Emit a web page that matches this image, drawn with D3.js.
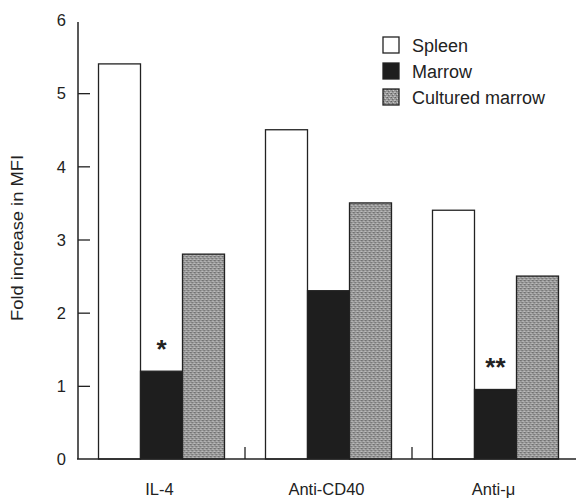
<!DOCTYPE html>
<html>
<head>
<meta charset="utf-8">
<script src="https://cdn.jsdelivr.net/npm/d3@7"></script>
<style>
  body { margin: 0; background: #fff; }
  text { font-family: "Liberation Sans", Arial, sans-serif; fill: #222; }
</style>
</head>
<body>
<div id="chart"></div>
<script>
// data
const groups = ['IL-4', 'Anti-CD40', 'Anti-\u03bc'];
const series = ['Spleen', 'Marrow', 'Cultured marrow'];
const spleen = [5.4, 4.5, 3.4];
const marrow = [1.2, 2.3, 0.95];
const cultured = [2.8, 3.5, 2.5];
const marks = ['*', '', '**'];   // significance over marrow bars
const yTicks = [0, 1, 2, 3, 4, 5, 6];

const width = 576, height = 499;
const svg = d3.select('#chart').append('svg')
  .attr('width', width).attr('height', height);

// stippled grey fill
const defs = svg.append('defs');
const pat = defs.append('pattern').attr('id', 'stip')
  .attr('patternUnits', 'userSpaceOnUse').attr('width', 4).attr('height', 4);
pat.append('rect').attr('width', 4).attr('height', 4).attr('fill', '#9a9a9a');
[[0, 0, '#626262'], [2, 1, '#c8c8c8'], [1, 2, '#6e6e6e'], [3, 3, '#c0c0c0'], [3, 0, '#808080'], [0, 3, '#b4b4b4'], [2, 2, '#888']]
  .forEach(([px, py, c]) => pat.append('rect').attr('x', px).attr('y', py).attr('width', 1).attr('height', 1).attr('fill', c));

const fills = ['#ffffff', '#1e1e1e', 'url(#stip)'];

const x0 = d3.scaleBand().domain(groups).range([78, 579])
  .paddingInner(0.2455).paddingOuter(0.1228);
const x1 = d3.scaleBand().domain(series).range([0, x0.bandwidth()]);
const y = d3.scaleLinear().domain([0, 6]).range([459, 20]);

const rows = groups.map((g, i) => ({ g, vals: [spleen[i], marrow[i], cultured[i]] }));

// bars
const gg = svg.selectAll('g.grp').data(rows).enter().append('g')
  .attr('class', 'grp')
  .attr('transform', d => `translate(${x0(d.g)},0)`);
gg.selectAll('rect').data(d => d.vals.map((v, k) => ({ s: series[k], v, k })))
  .enter().append('rect')
  .attr('x', d => x1(d.s))
  .attr('y', d => y(d.v))
  .attr('width', x1.bandwidth())
  .attr('height', d => y(0) - y(d.v))
  .attr('fill', d => fills[d.k])
  .attr('stroke', '#222')
  .attr('stroke-width', 1.3);

// asterisks
svg.selectAll('text.sig').data(rows).enter().append('text')
  .attr('class', 'sig')
  .attr('x', d => x0(d.g) + x1('Marrow') + x1.bandwidth() / 2)
  .attr('y', d => y(d.vals[1]) - 13)
  .attr('text-anchor', 'middle')
  .attr('font-size', 26)
  .attr('font-weight', 'bold')
  .text((d, i) => marks[i]);

// y axis
const yAxis = d3.axisRight(y).tickValues(yTicks).tickSize(12).tickFormat(d3.format('d'));
const ya = svg.append('g').attr('transform', 'translate(78,0)').call(yAxis);
ya.select('.domain').attr('stroke', '#222').attr('stroke-width', 1.5)
  .attr('d', `M0,${y(6) + 2}V${y(0)}`);
ya.selectAll('.tick line').attr('stroke', '#222').attr('stroke-width', 1.3);
ya.selectAll('.tick text').attr('x', -12).attr('text-anchor', 'end')
  .attr('font-size', 16.5).attr('dy', '0.35em');
ya.selectAll('.tick').filter(d => d === 0 || d === 6).select('line').remove();

// x axis: baseline + inner ticks between groups
const xa = svg.append('g').attr('transform', `translate(0,${y(0)})`);
xa.append('line').attr('x1', 77).attr('x2', 576).attr('stroke', '#222').attr('stroke-width', 1.5);
const step = x0.step();
const bounds = groups.slice(1).map(g => x0(g) - (step - x0.bandwidth()) / 2);
xa.selectAll('line.sep').data(bounds).enter().append('line')
  .attr('class', 'sep')
  .attr('x1', d => d).attr('x2', d => d)
  .attr('y1', 0).attr('y2', -12)
  .attr('stroke', '#222').attr('stroke-width', 1.3);
xa.selectAll('text').data(groups).enter().append('text')
  .attr('x', d => x0(d) + x0.bandwidth() / 2 - 2)
  .attr('y', 36)
  .attr('text-anchor', 'middle')
  .attr('font-size', 16.5)
  .text(d => d);

// y label
svg.append('text')
  .attr('transform', `translate(23,238) rotate(-90)`)
  .attr('text-anchor', 'middle')
  .attr('font-size', 17)
  .attr('textLength', 166)
  .attr('lengthAdjust', 'spacingAndGlyphs')
  .text('Fold increase in MFI');

// legend
const lg = svg.append('g').attr('transform', 'translate(383,37)');
const li = lg.selectAll('g').data(series).enter().append('g')
  .attr('transform', (d, i) => `translate(0,${i * 26})`);
li.append('rect').attr('width', 16).attr('height', 16)
  .attr('fill', (d, i) => fills[i]).attr('stroke', '#222').attr('stroke-width', 1.3);
li.append('text').attr('x', 29).attr('y', 15).attr('font-size', 18).text(d => d);
</script>
</body>
</html>
